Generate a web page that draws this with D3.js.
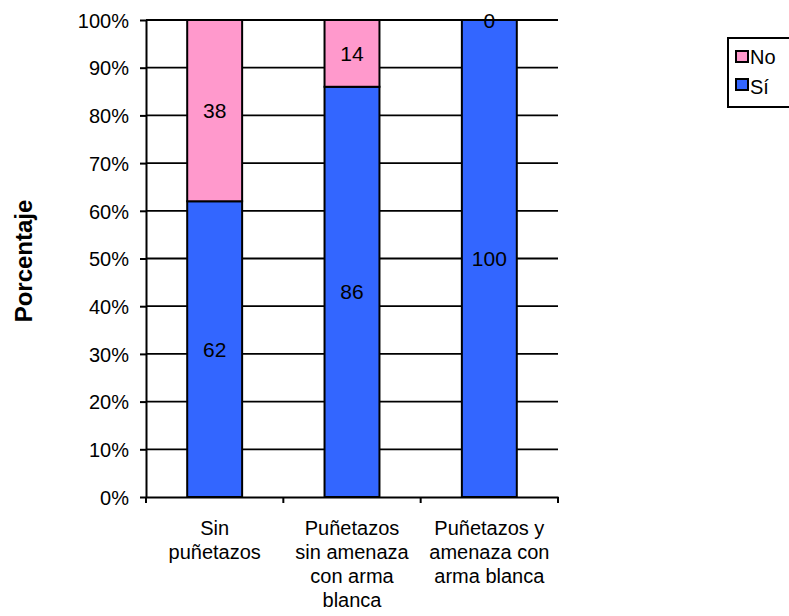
<!DOCTYPE html>
<html><head><meta charset="utf-8">
<script src="https://cdn.jsdelivr.net/npm/d3@7"></script>
<style>body{margin:0;background:#fff;} text{font-family:"Liberation Sans",Arial,sans-serif;}</style>
</head><body>
<svg id="c" width="789" height="616"></svg>
<script>
const categories = [["Sin","puñetazos"],["Puñetazos","sin amenaza","con arma","blanca"],["Puñetazos y","amenaza con","arma blanca"]];
const si = [62, 86, 100];
const no = [38, 14, 0];
const seriesNames = ["Sí","No"];
const colors = {"Sí":"#3366FF","No":"#FF99CC"};
const yTicks = [0,10,20,30,40,50,60,70,80,90,100];

const svg = d3.select("#c");
const L=146, R=558, T=20, B=497;
const x = d3.scaleBand().domain(d3.range(categories.length)).range([L,R]).paddingInner(0.6).paddingOuter(0.3);
const xb = d3.scaleBand().domain(d3.range(categories.length)).range([L,R]);
const y = d3.scaleLinear().domain([0,100]).range([B,T]);

// gridlines
svg.append("g").selectAll("line").data(yTicks.filter(d=>d>0)).join("line")
  .attr("x1",L).attr("x2",R).attr("y1",d=>y(d)).attr("y2",d=>y(d))
  .attr("stroke","#000").attr("stroke-width",1.8);

// stacked bars
const data = categories.map((c,i)=>({i, "Sí":si[i], "No":no[i]}));
const stack = d3.stack().keys(seriesNames)(data);
svg.append("g").selectAll("g").data(stack).join("g")
  .attr("fill",d=>colors[d.key])
  .selectAll("rect").data(d=>d).join("rect")
  .attr("x",d=>x(d.data.i)).attr("width",x.bandwidth())
  .attr("y",d=>y(d[1])).attr("height",d=>y(d[0])-y(d[1]))
  .attr("stroke","#000").attr("stroke-width",2);

// labels
stack.forEach(s=>{
  svg.append("g").selectAll("text").data(s).join("text")
    .attr("x",d=>x(d.data.i)+x.bandwidth()/2)
    .attr("y",d=>(y(d[0])+y(d[1]))/2+7.5)
    .attr("text-anchor","middle").attr("font-size",21)
    .text(d=>d.data[s.key]);
});

// y axis
const ya = d3.axisLeft(y).tickValues(yTicks).tickFormat(d=>d+"%").tickSize(6).tickSizeOuter(0);
const gy = svg.append("g").attr("transform",`translate(${L},0)`).call(ya);
gy.select(".domain").attr("stroke","#000").attr("stroke-width",2);
gy.selectAll(".tick line").attr("stroke","#000").attr("stroke-width",2);
gy.selectAll(".tick text").attr("font-size",20).attr("font-family","Liberation Sans, Arial, sans-serif").attr("fill","#000").attr("x",-17).attr("dy","0.36em");

// x axis
const xa = d3.axisBottom(xb).tickValues([]).tickSizeOuter(0);
const gx = svg.append("g").attr("transform",`translate(0,${B})`).call(xa);
gx.select(".domain").attr("stroke","#000").attr("stroke-width",2);
svg.append("g").selectAll("line").data(d3.range(categories.length+1)).join("line")
  .attr("x1",d=>L+d*xb.step()).attr("x2",d=>L+d*xb.step()).attr("y1",B).attr("y2",B+6)
  .attr("stroke","#000").attr("stroke-width",2);
svg.append("g").selectAll("text").data(categories).join("text")
  .attr("text-anchor","middle").attr("font-size",20)
  .attr("transform",(d,i)=>`translate(${xb(i)+xb.bandwidth()/2},535)`)
  .each(function(d){
    d3.select(this).selectAll("tspan").data(d).join("tspan")
      .attr("x",0).attr("dy",(t,k)=>k===0?0:"24px").text(t=>t);
  });

// y title
svg.append("text").attr("transform",`translate(32,261) rotate(-90)`)
  .attr("text-anchor","middle").attr("font-size",24).attr("font-weight","bold").text("Porcentaje");

// legend
const lg = svg.append("g");
lg.append("rect").attr("x",728).attr("y",38).attr("width",70).attr("height",69)
  .attr("fill","#fff").attr("stroke","#000").attr("stroke-width",2);
["No","Sí"].forEach((k,i)=>{
  lg.append("rect").attr("x",736).attr("y",51+i*28).attr("width",12).attr("height",11)
    .attr("fill",colors[k]).attr("stroke","#000").attr("stroke-width",2);
  lg.append("text").attr("x",750).attr("y",63.5+i*30).attr("font-size",20).text(k);
});
</script>
</body></html>
